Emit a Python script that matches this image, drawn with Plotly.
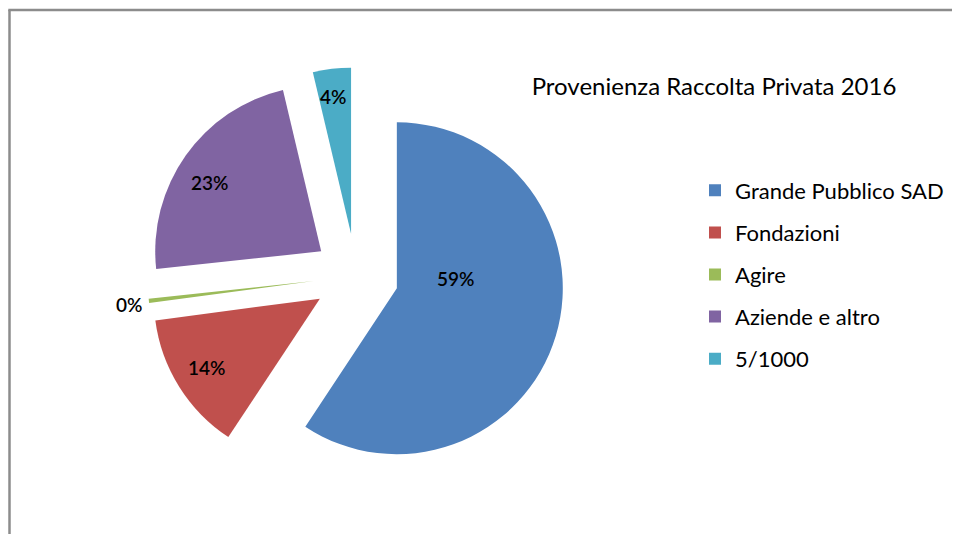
import plotly.graph_objects as go

# Provenienza della raccolta privata 2016 (quote in %)
categorie = ["Grande Pubblico SAD", "Fondazioni", "Agire", "Aziende e altro", "5/1000"]
quote = [59.3, 13.6, 0.4, 23.0, 3.7]
colori = ["#4F81BD", "#C0504D", "#9BBB59", "#8064A2", "#4BACC6"]

FONT = "Lato"
W, H = 952, 526  # la pagina ha 8px di margine: la figura riempie il resto della finestra

def px_x(x):
    return x / W

def px_y(y):
    return 1 - y / H

# posizione delle etichette percentuali (pixel della figura, come nell'originale Excel)
pos_etichette = [(447.5, 270), (198, 359), (121, 296), (201.5, 174), (325, 89)]

fig = go.Figure()

fig.add_trace(go.Pie(
    labels=categorie,
    values=quote,
    sort=False,
    direction="clockwise",
    rotation=0,
    pull=[0.257] * len(quote),
    marker=dict(colors=colori, line=dict(width=0)),
    textinfo="none",
    showlegend=False,
    hoverinfo="label+percent",
    domain=dict(x=[px_x(139.4), px_x(556.6)], y=[px_y(476.6), px_y(59.4)]),
))

# voci di legenda (quadratini), una per gruppo per avere la spaziatura dell'originale
for nome, colore in zip(categorie, colori):
    fig.add_trace(go.Scatter(
        x=[None], y=[None], mode="markers", name=nome,
        marker=dict(symbol="square", size=12, color=colore),
        legendgroup=nome, showlegend=True,
    ))

totale = sum(quote)
for v, (px, py) in zip(quote, pos_etichette):
    fig.add_annotation(
        x=px_x(px), y=px_y(py), xref="paper", yref="paper",
        text=f"{round(v / totale * 100)}%", showarrow=False,
        xanchor="center", yanchor="middle",
        font=dict(family=FONT, size=19, color="black", weight=600),
    )

fig.update_layout(
    width=W, height=H,
    margin=dict(l=0, r=0, t=0, b=0, autoexpand=False),
    paper_bgcolor="white", plot_bgcolor="white",
    font=dict(family=FONT, size=22, color="black"),
    title=dict(text="Provenienza Raccolta Privata 2016", x=px_x(706), xanchor="center",
               y=px_y(79), yanchor="middle", font=dict(family=FONT, size=24, color="black")),
    xaxis=dict(visible=False), yaxis=dict(visible=False),
    legend=dict(x=px_x(687), xanchor="left", y=px_y(266.5), yanchor="middle",
                tracegroupgap=10.5, font=dict(family=FONT, size=22, color="black"),
                bgcolor="rgba(0,0,0,0)"),
    shapes=[
        dict(type="line", xref="paper", yref="paper",
             x0=px_x(1.5), x1=px_x(1.5), y0=-0.05, y1=px_y(2),
             line=dict(color="#8C8C8C", width=2.5)),
        dict(type="line", xref="paper", yref="paper",
             x0=px_x(0.3), x1=1.05, y0=px_y(2), y1=px_y(2),
             line=dict(color="#8C8C8C", width=2.5)),
    ],
)

fig.write_html("out.html")
